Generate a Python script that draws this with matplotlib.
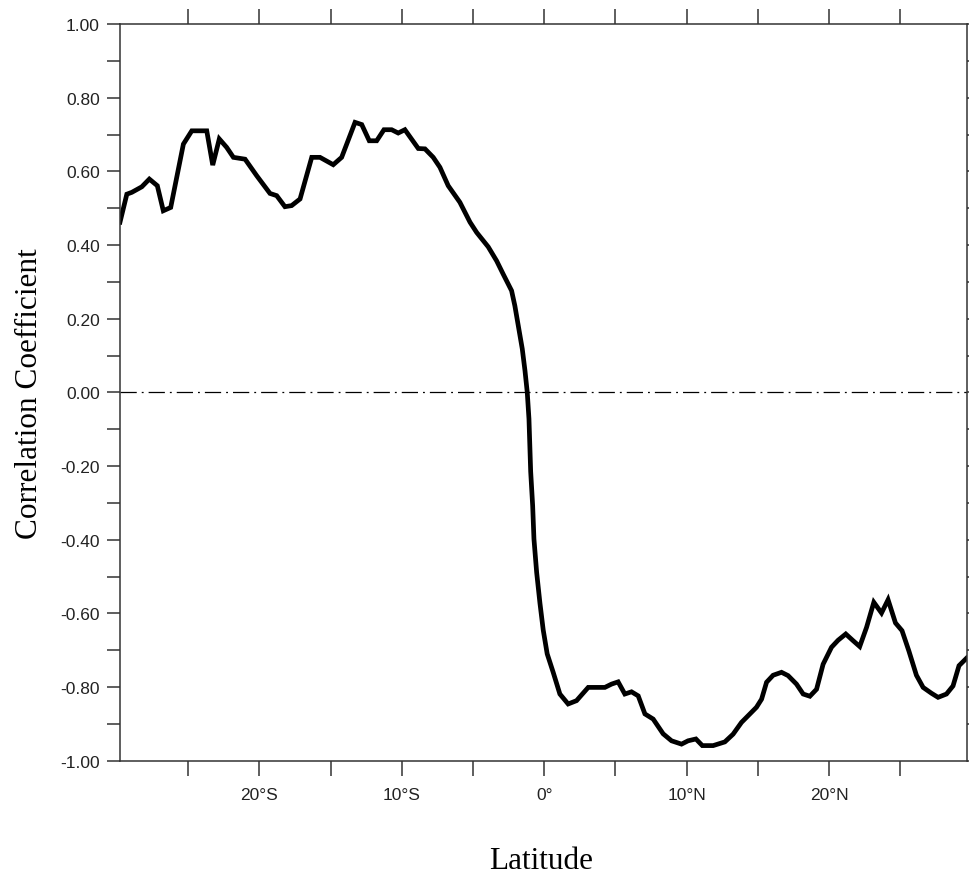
import numpy as np
import matplotlib
matplotlib.use("Agg")
import matplotlib.pyplot as plt

# values
lat = [-29.78, -29.3, -28.95, -28.25, -27.72, -27.16, -26.74, -26.22, -25.33, -24.74,
       -23.69, -23.27, -22.81, -22.29, -21.82, -21.0, -20.18, -19.25, -18.78, -18.2,
       -17.73, -17.14, -16.32, -15.74, -14.81, -14.22, -13.28, -12.81, -12.28, -11.76,
       -11.25, -10.71, -10.25, -9.78, -8.84, -8.37, -7.79, -7.32, -6.74, -5.92,
       -5.21, -4.74, -3.93, -3.34, -2.88, -2.29, -2.06, -1.82, -1.54, -1.35,
       -1.19, -1.07, -0.95, -0.81, -0.72, -0.53, -0.30, -0.07, 0.21, 0.63,
       1.1, 1.68, 2.27, 3.09, 4.26, 4.73, 5.19, 5.66, 6.13, 6.6,
       7.07, 7.65, 8.35, 8.94, 9.64, 10.1, 10.65, 11.1, 11.86, 12.68,
       13.26, 13.85, 14.44, 14.9, 15.26, 15.61, 16.07, 16.66, 17.12, 17.71,
       18.18, 18.65, 19.12, 19.58, 20.17, 20.63, 21.17, 21.68, 22.15, 22.63,
       23.14, 23.68, 24.14, 24.66, 25.12, 25.6, 26.13, 26.6, 27.19, 27.65,
       28.24, 28.7, 29.12, 29.64]
corr = [0.462, 0.538, 0.543, 0.558, 0.579, 0.561, 0.493, 0.502, 0.674, 0.710,
        0.710, 0.617, 0.688, 0.665, 0.638, 0.633, 0.588, 0.540, 0.534, 0.504,
        0.507, 0.525, 0.638, 0.638, 0.618, 0.638, 0.733, 0.727, 0.683, 0.683,
        0.713, 0.713, 0.704, 0.713, 0.662, 0.661, 0.638, 0.611, 0.561, 0.516,
        0.462, 0.434, 0.395, 0.357, 0.321, 0.276, 0.235, 0.181, 0.118, 0.059,
        0.0, -0.072, -0.215, -0.308, -0.398, -0.489, -0.572, -0.645, -0.710, -0.760,
        -0.819, -0.846, -0.837, -0.801, -0.801, -0.792, -0.786, -0.819, -0.813, -0.824,
        -0.873, -0.887, -0.927, -0.946, -0.955, -0.946, -0.941, -0.959, -0.959, -0.949,
        -0.928, -0.896, -0.873, -0.855, -0.833, -0.787, -0.768, -0.760, -0.769, -0.792,
        -0.819, -0.825, -0.806, -0.738, -0.692, -0.673, -0.656, -0.674, -0.690, -0.638,
        -0.570, -0.599, -0.563, -0.626, -0.647, -0.702, -0.768, -0.801, -0.817, -0.828,
        -0.819, -0.797, -0.742, -0.722]

xticks = [-25, -20, -15, -10, -5, 0, 5, 10, 15, 20, 25]
xticklabels = ["", "20°S", "", "10°S", "", "0°", "", "10°N", "", "20°N", ""]
yticks = [1.0, 0.8, 0.6, 0.4, 0.2, 0.0, -0.2, -0.4, -0.6, -0.8, -1.0]
yticklabels = ["1.00", "0.80", "0.60", "0.40", "0.20", "0.00",
               "-0.20", "-0.40", "-0.60", "-0.80", "-1.00"]

fig = plt.figure(figsize=(9.7, 8.78), dpi=100)
ax = fig.add_axes([120 / 970, 1 - 761.7 / 878, (966.7 - 120) / 970, (761.7 - 25) / 878])

ax.plot(lat, corr, color="black", linewidth=3.4, solid_joinstyle="miter")
ax.axhline(0, color="black", linewidth=0.9, dashes=(13, 4, 1.5, 4))

ax.set_xlim(-29.78, 29.66)
ax.set_ylim(-1.0, 1.0)

ax.set_xticks(xticks)
ax.set_xticklabels(xticklabels)
ax.set_yticks(yticks)
ax.set_yticklabels(yticklabels)
ax.set_yticks(np.arange(-0.9, 1.0, 0.2), minor=True)

for s in ax.spines.values():
    s.set_color("#333333")
    s.set_linewidth(1.1)

ax.tick_params(axis="both", which="both", direction="out", color="#333333",
               width=1.1, labelsize=12.5)
ax.tick_params(axis="y", which="both", length=9.5, right=True, pad=5)
ax.tick_params(axis="x", which="both", length=11, top=True, pad=8)
for lbl in ax.get_xticklabels() + ax.get_yticklabels():
    lbl.set_family("Liberation Sans")
    lbl.set_color("#222222")

fig.text(30 / 970, 1 - 393.3 / 878, "Correlation Coefficient", rotation=90,
         ha="center", va="center", family="Liberation Serif", fontsize=22.5)
fig.text(541 / 970, 1 - 869.3 / 878, "Latitude", ha="center", va="baseline",
         family="Liberation Serif", fontsize=22.5)

fig.savefig("out.png", dpi=100)
